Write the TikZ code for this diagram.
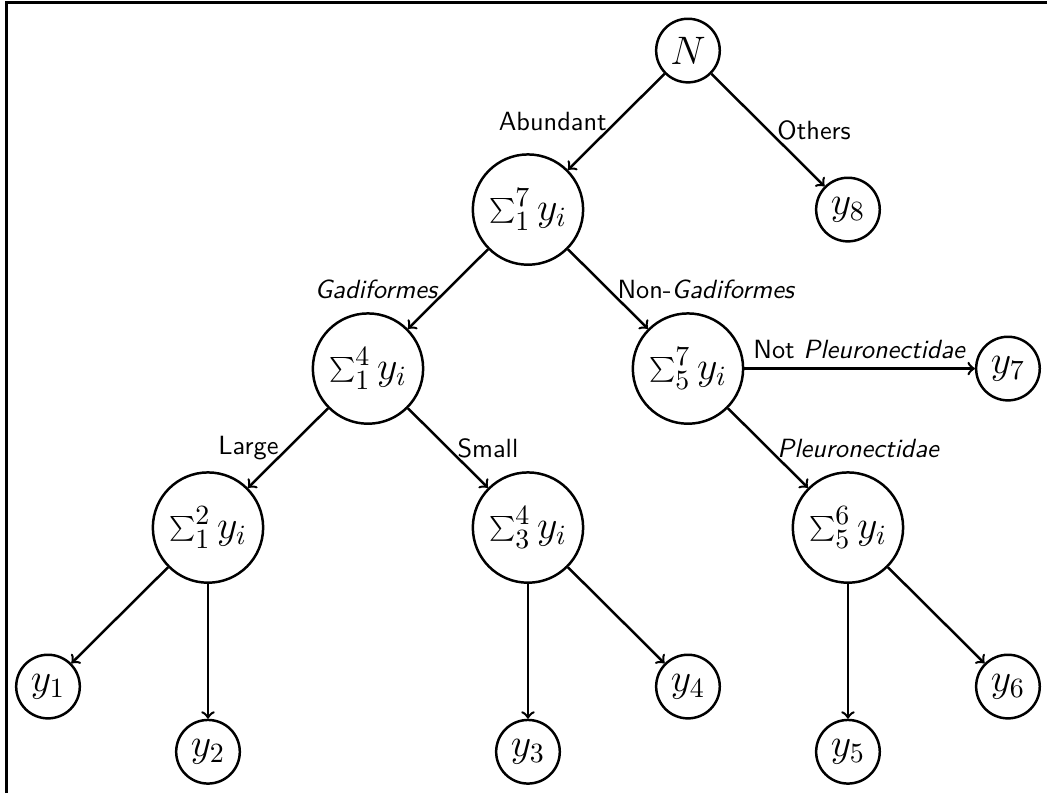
\documentclass[tikz,border=0pt]{standalone}
\usepackage{fix-cm}
\tikzset{
    leaf/.style={draw, line width=1pt, circle, inner sep=0pt, minimum size=0.9cm, font=\fontsize{16}{19}\selectfont},
    sumnode/.style={draw, line width=1pt, circle, inner sep=0pt, minimum size=1.56cm, font=\fontsize{16}{19}\selectfont},
    lbl/.style={font=\fontsize{10.6}{12}\sffamily}
}
\begin{document}
\begin{tikzpicture}[x=2.263cm, y=2.249cm]
        \useasboundingbox (-0.3,-4.67) rectangle (6.244,0.318);
        \draw[line width=1pt] (-0.259,-4.67) -- (-0.259,0.302) -- (6.244,0.302);

        \node[leaf] (N) at (4,0) {$N$};
        \node[sumnode] (s17) at (3,-1) {$\sum_1^7 y_i$};
        \node[leaf] (y8) at (5,-1) {$y_8$};
        \node[sumnode] (s14) at (2,-2) {$\sum_1^4 y_i$};
        \node[sumnode] (s57) at (4,-2) {$\sum_5^7 y_i$};
        \node[leaf] (y7) at (6,-2) {$y_7$};
        \node[sumnode] (s12) at (1,-3) {$\sum_1^2 y_i$};
        \node[sumnode] (s34) at (3,-3) {$\sum_3^4 y_i$};
        \node[sumnode] (s56) at (5,-3) {$\sum_5^6 y_i$};
        \node[leaf] (y1) at (0,-4) {$y_1$};
        \node[leaf] (y2) at (1,-4.41) {$y_2$};
        \node[leaf] (y3) at (3,-4.41) {$y_3$};
        \node[leaf] (y4) at (4,-4) {$y_4$};
        \node[leaf] (y5) at (5,-4.41) {$y_5$};
        \node[leaf] (y6) at (6,-4) {$y_6$};

        \path[draw,line width=1pt,->] (N) -- node[lbl,left] {Abundant} (s17);
        \path[draw,line width=1pt,->] (N) -- node[lbl,right] {Others} (y8);
        \path[draw,line width=1pt,->] (s17) -- node[lbl,left] {\textsl{Gadiformes}} (s14);
        \path[draw,line width=1pt,->] (s17) -- node[lbl,right] {Non-\textsl{Gadiformes}} (s57);
        \path[draw,line width=1pt,->] (s57) -- node[lbl,above] {Not \textsl{Pleuronectidae}} (y7);
        \path[draw,line width=1pt,->] (s57) -- node[lbl,right] {\textsl{Pleuronectidae}} (s56);
        \path[draw,line width=1pt,->] (s14) -- node[lbl,left] {Large} (s12);
        \path[draw,line width=1pt,->] (s14) -- node[lbl,right] {Small} (s34);
        \path[draw,line width=1pt,->] (s12) -- (y1);
        \path[draw,line width=1pt,->] (s12) -- (y2);
        \path[draw,line width=1pt,->] (s34) -- (y3);
        \path[draw,line width=1pt,->] (s34) -- (y4);
        \path[draw,line width=1pt,->] (s56) -- (y5);
        \path[draw,line width=1pt,->] (s56) -- (y6);
    \end{tikzpicture}
\end{document}
